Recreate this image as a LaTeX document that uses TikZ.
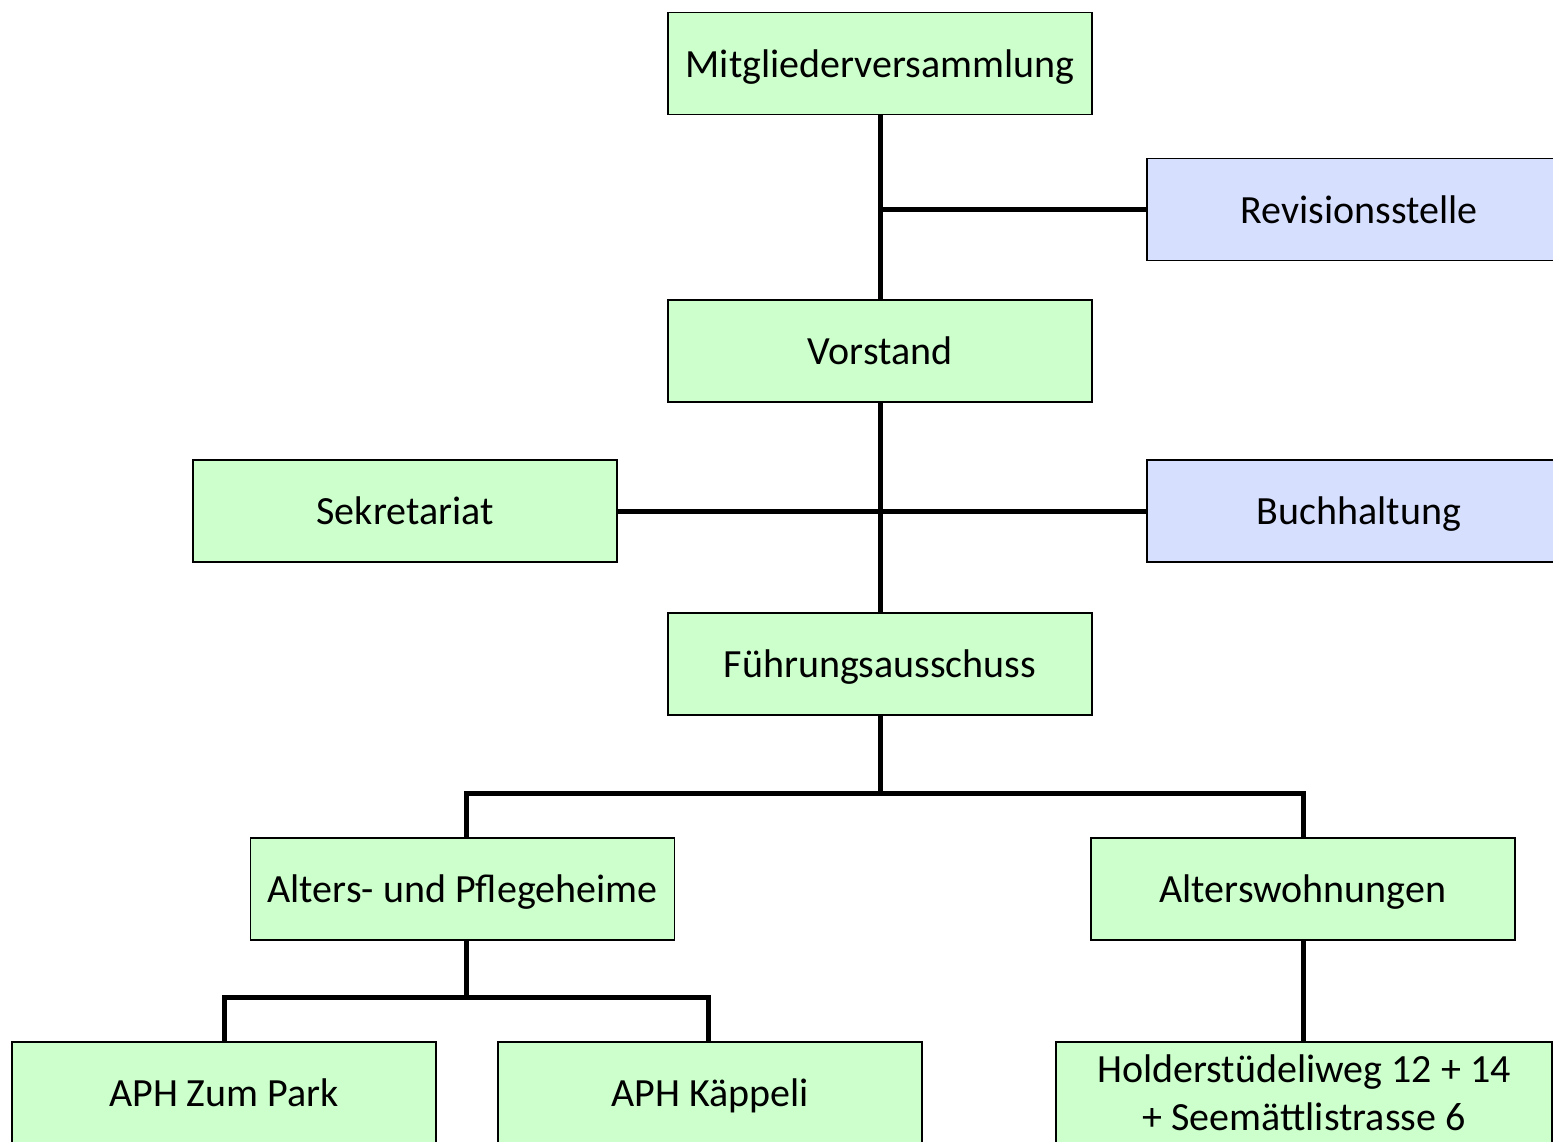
\documentclass[tikz,border=0pt]{standalone}
\usepackage{fontspec}
\setmainfont{Carlito}
\begin{document}
\begin{tikzpicture}[x=1pt,y=-1pt,
  box/.style={draw=black,line width=1.5pt,minimum width=424pt,minimum height=102pt,inner sep=0pt,
    text height=32pt,text depth=5pt,
    font=\fontsize{40}{48}\selectfont,align=center},
  conn/.style={line width=5pt}]
\definecolor{gfill}{HTML}{CCFFCC}
\definecolor{bfill}{HTML}{D7DFFF}
\tikzset{gbox/.style={box,fill=gfill},bbox/.style={box,fill=bfill}}
\useasboundingbox (0,0) rectangle (1553,1141);
\clip (0,0) rectangle (1553,1141);
\fill[white] (0,0) rectangle (1553,1141);
\node[gbox] (mv) at (880,63.5) {Mitgliederversammlung};
\node[bbox] (rev) at (1359,209.5) {Revisionsstelle};
\node[gbox] (vs) at (880,351) {Vorstand};
\node[gbox] (sek) at (405,511) {Sekretariat};
\node[bbox] (buch) at (1359,511) {Buchhaltung};
\node[gbox] (fa) at (880,664) {Führungsausschuss};
\node[gbox] (aph) at (462.5,889) {Alters- und Pflegeheime};
\node[gbox] (aw) at (1303,889) {Alterswohnungen};
\node[gbox] (park) at (224,1093) {APH Zum Park};
\node[gbox] (kap) at (710,1093) {APH Käppeli};
\node[gbox,minimum width=496pt,text height=,text depth=] (hold) at (1304,1093) {Holderstüdeliweg 12 + 14\\+ Seemättlistrasse 6};
\coordinate (j1) at (mv.south |- rev.west);
\coordinate (j3) at (880,793);
\coordinate (j3l) at (466,793);
\coordinate (j3r) at (1303,793);
\coordinate (j4) at (466,997);
\coordinate (j4l) at (224,997);
\coordinate (j4r) at (708,997);
\draw[conn] (mv.south) -- (vs.north);
\draw[conn] (j1) -- (rev.west);
\draw[conn] (vs.south) -- (fa.north);
\draw[conn] (sek.east) -- (buch.west);
\draw[conn] (fa.south) -- (j3);
\draw[conn] (j3l |- aph.north) -- (j3l) -- (j3r) -- (j3r |- aw.north);
\draw[conn] (j4 |- aph.south) -- (j4);
\draw[conn] (j4l |- park.north) -- (j4l) -- (j4r) -- (j4r |- kap.north);
\draw[conn] (aw.south) -- (hold.north -| aw.south);
\end{tikzpicture}
\end{document}
